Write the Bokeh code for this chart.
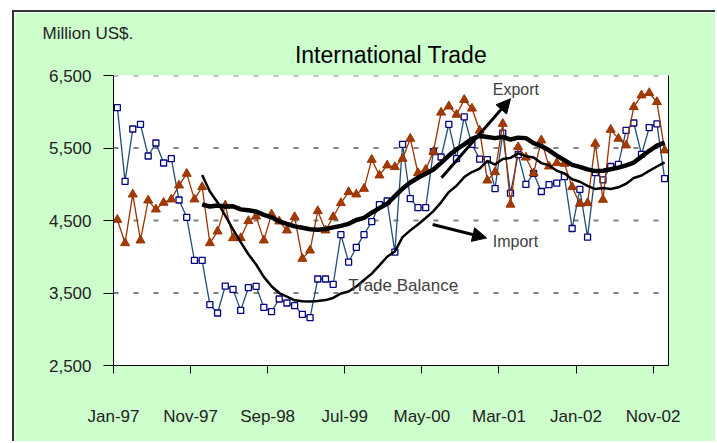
import pandas as pd
from bokeh.plotting import figure
from bokeh.models import (Span, Label, Arrow, NormalHead, FixedTicker, LinearAxis,
                          NumeralTickFormatter, Range1d, Title)
from bokeh.embed import file_html
from bokeh.resources import INLINE

# ---- data (million US$, monthly Jan-97 .. Dec-02) ----
import_vals = [6056, 5040, 5762, 5826, 5390, 5569, 5293, 5353, 4783, 4544, 3950, 3950,
               3339, 3224, 3596, 3550, 3260, 3573, 3592, 3302, 3242, 3417, 3362, 3325,
               3206, 3160, 3693, 3693, 3619, 4304, 3927, 4130, 4304, 4484, 4718, 4769,
               4065, 5551, 4801, 4677, 4677, 5449, 5376, 5826, 5353, 5928, 5550, 5346,
               5341, 4941, 5704, 4877, 5410, 4997, 5150, 4900, 4995, 5015, 5105, 4390,
               4928, 4270, 5160, 5060, 5245, 5273, 5742, 5845, 5411, 5782, 5832, 5078]
export_vals = [4511, 4189, 4861, 4226, 4778, 4654, 4746, 4792, 4985, 5146, 4792, 4962,
               4189, 4350, 4709, 4258, 4258, 4493, 4557, 4226, 4585, 4488, 4364, 4548,
               3973, 4088, 4631, 4364, 4548, 4741, 4893, 4861, 4939, 5339, 5123, 5261,
               5238, 5353, 5629, 5155, 5201, 5449, 5990, 6075, 5960, 6165, 6045, 5741,
               5053, 5168, 5835, 4720, 5512, 5370, 5152, 5606, 5247, 5293, 5284, 4962,
               4732, 4741, 5560, 4787, 5753, 5629, 5537, 6066, 6227, 6259, 6135, 5468]
tick_labels = ["Jan-97", "Nov-97", "Sep-98", "Jul-99", "May-00", "Mar-01", "Jan-02", "Nov-02"]
y_ticks = [2500, 3500, 4500, 5500, 6500]
ma_window = 12

months = list(range(len(import_vals)))
imp_ma = pd.Series(import_vals).rolling(ma_window).mean()
exp_ma = pd.Series(export_vals).rolling(ma_window).mean()
ma_x = months[ma_window - 1:]
imp_ma_v = list(imp_ma.dropna())
exp_ma_v = list(exp_ma.dropna())

FONT = "Liberation Sans"

p = figure(width=703, height=431, output_backend="svg", toolbar_location=None, title=None,
           x_range=Range1d(-0.5, len(months) - 0.5), y_range=Range1d(2500, 6500),
           min_border_left=99, min_border_right=49, min_border_top=63, min_border_bottom=78)
p.styles = {"margin-left": "12px", "margin-top": "10px",
            "border-left": "2px solid #333333", "border-top": "2px solid #333333"}
p.border_fill_color = "#CCFFCC"
p.background_fill_color = "white"
p.outline_line_color = None
p.xgrid.visible = False
p.ygrid.visible = False

# titles (first added = nearest to the plot area)
p.add_layout(Title(text="International Trade", align="center", offset=-10, text_font=FONT,
                   text_font_size="23px", text_font_style="normal",
                   text_color="black", standoff=15), "above")
p.add_layout(Title(text="Million US$.", align="left", offset=-71, text_font=FONT,
                   text_font_size="17px", text_font_style="normal",
                   text_color="#222222", standoff=-20), "above")

# gridlines
for lvl, col, w in [(6500, "#808080", 2), (5500, "#808080", 2), (4500, "#808080", 2), (3500, "black", 1)]:
    p.add_layout(Span(location=lvl, dimension="width", line_color=col, line_width=w,
                      line_dash="5 15", level="underlay"))

# y axis
p.yaxis.ticker = FixedTicker(ticks=y_ticks)
p.yaxis.formatter = NumeralTickFormatter(format="0,0")
p.yaxis.major_tick_out = 10
p.yaxis.major_tick_in = 0
p.yaxis.minor_tick_line_color = None
p.yaxis.axis_line_color = "black"
p.yaxis.major_tick_line_color = "black"
p.yaxis.major_label_standoff = 12
p.yaxis.major_label_text_font = FONT
p.yaxis.major_label_text_font_size = "17px"
p.yaxis.major_label_text_color = "#222222"

# x axis
tick_pos = [-0.5 + 10 * k for k in range(len(tick_labels))]
p.xaxis.ticker = FixedTicker(ticks=tick_pos)
p.xaxis.major_label_overrides = {t: lab for t, lab in zip(tick_pos, tick_labels)}
p.xaxis.major_tick_out = 8
p.xaxis.major_tick_in = 0
p.xaxis.minor_tick_line_color = None
p.xaxis.axis_line_color = "black"
p.xaxis.major_tick_line_color = "black"
p.xaxis.major_label_standoff = 33
p.xaxis.major_label_text_font = FONT
p.xaxis.major_label_text_font_size = "17px"
p.xaxis.major_label_text_color = "#222222"

# right border line
ra = LinearAxis(ticker=FixedTicker(ticks=[]), axis_line_color="black",
                major_tick_line_color=None, minor_tick_line_color=None,
                major_label_text_font_size="0px")
p.add_layout(ra, "right")

# series
p.line(months, import_vals, line_color="#1F4E79", line_width=1.3)
p.scatter(months, import_vals, marker="square", size=6, fill_color="white",
          line_color="#000080", line_width=1.3)
p.line(months, export_vals, line_color="#993300", line_width=1.3)
p.scatter(months, export_vals, marker="triangle", size=9, fill_color="#A33A00",
          line_color="#993300")
p.line(ma_x, exp_ma_v, line_color="black", line_width=4.5)
p.line(ma_x, imp_ma_v, line_color="black", line_width=2.5)

# annotations
p.add_layout(Arrow(end=NormalHead(size=14, fill_color="black", line_color="black"),
                   x_start=42.05, y_start=5089, x_end=51.0, y_end=6179,
                   line_width=3, line_color="black"))
p.add_layout(Arrow(end=NormalHead(size=14, fill_color="black", line_color="black"),
                   x_start=40.9, y_start=4445, x_end=47.9, y_end=4259,
                   line_width=3, line_color="black"))
p.add_layout(Label(x=48.7, y=6192, text="Export", text_font=FONT,
                   text_font_size="16px", text_color="#404040"))
p.add_layout(Label(x=48.7, y=4096, text="Import", text_font=FONT,
                   text_font_size="16px", text_color="#404040"))
p.add_layout(Label(x=29.95, y=3466, text="Trade Balance", text_font=FONT,
                   text_font_size="17px", text_color="#404040"))

open("out.html", "w").write(file_html(p, INLINE))
